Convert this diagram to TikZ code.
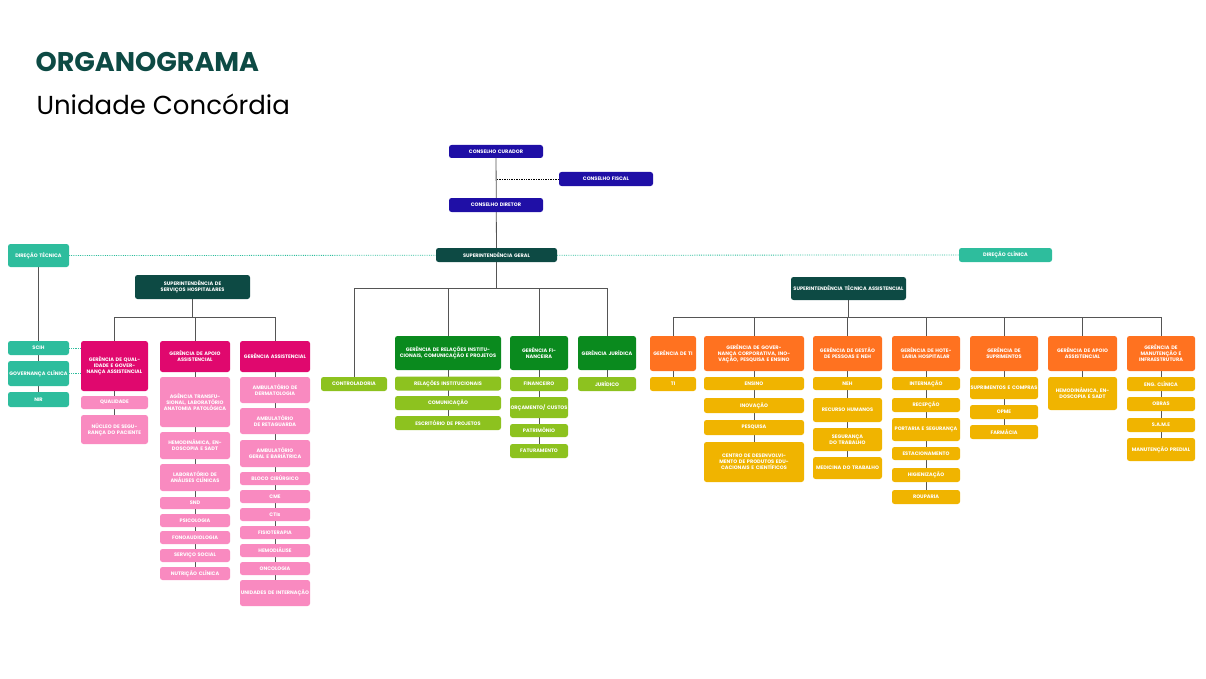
\documentclass[tikz,border=0pt]{standalone}
\usepackage{fontspec}
\setmainfont{Poppins}
\usetikzlibrary{backgrounds}
\definecolor{navy}{HTML}{1F0FA6}
\definecolor{dkg}{HTML}{0D4A44}
\definecolor{teal}{HTML}{2EBD9D}
\definecolor{mag}{HTML}{E0086E}
\definecolor{pnk}{HTML}{F98AC0}
\definecolor{grn}{HTML}{0A8A1E}
\definecolor{lgr}{HTML}{8DC21F}
\definecolor{org}{HTML}{FF7220}
\definecolor{yel}{HTML}{F0B400}
\definecolor{ln}{HTML}{555555}
\begin{document}
\begin{tikzpicture}[x=1pt,y=-1pt,
 b/.style 2 args={rounded corners=2.5pt,inner sep=0.5pt,minimum width=#1pt,minimum height=#2pt,text width=#1pt-1pt,align=center,font=\bfseries\fontsize{5}{6}\selectfont,text=white},
 nv/.style={fill=navy}, dg/.style={fill=dkg}, tl/.style={fill=teal}, mg/.style={fill=mag}, pk/.style={fill=pnk},
 gn/.style={fill=grn}, lg/.style={fill=lgr}, og/.style={fill=org}, yl/.style={fill=yel},
 ed/.style={draw=ln,line width=0.8pt},
 dt/.style={draw=teal,densely dotted,line width=0.8pt}]
\useasboundingbox (0,0) rectangle (1206,679);
\node[anchor=west,text=dkg,font=\bfseries\fontsize{27}{30}\selectfont] (t1) at (32,62) {ORGANOGRAMA};
\node[anchor=west,text=black,font=\fontsize{26}{30}\selectfont] (t2) at (33,104) {Unidade Concórdia};
% top
\node[b={94}{13},nv] (cc) at (496,151.5) {CONSELHO CURADOR};
\node[b={94}{14},nv] (cf) at (606,179) {CONSELHO FISCAL};
\node[b={94}{14},nv] (cd) at (496,205) {CONSELHO DIRETOR};
\node[b={121}{14},dg] (sg) at (496.5,255) {SUPERINTENDÊNCIA GERAL};
\node[b={61}{23},tl] (dtec) at (38.5,255.5) {DIREÇÃO TÉCNICA};
\node[b={93}{14},tl] (dc) at (1005.5,255) {DIREÇÃO CLÍNICA};
% left
\node[b={61}{14},tl] (scih) at (38.5,348) {SCIH};
\node[b={61}{25},tl] (gc) at (38.5,373.5) {GOVERNANÇA CLÍNICA};
\node[b={61}{15},tl] (nir) at (38.5,399.5) {NIR};
\node[b={115}{24},dg] (shs) at (192.5,287) {SUPERINTENDÊNCIA DE SERVIÇOS HOSPITALARES};
\node[b={67}{50},mg] (gq) at (114.5,366) {GERÊNCIA DE QUALIDADE E GOVERNANÇA ASSISTENCIAL};
\node[b={70}{31},mg] (ga) at (195,356.5) {GERÊNCIA DE APOIO ASSISTENCIAL};
\node[b={70}{31},mg] (gas) at (275,356.5) {GERÊNCIA ASSISTENCIAL};
\node[b={67}{13},pk] (q1) at (114.5,402.5) {QUALIDADE};
\node[b={67}{29},pk] (q2) at (114.5,429.5) {NÚCLEO DE SEGURANÇA DO PACIENTE};
\node[b={70}{50},pk] (a1) at (195,402) {AGÊNCIA TRANSFUSIONAL, LABORATÓRIO ANATOMIA PATOLÓGICA};
\node[b={70}{27},pk] (a2) at (195,445.5) {HEMODINÂMICA, ENDOSCOPIA E SADT};
\node[b={70}{27},pk] (a3) at (195,477.5) {LABORATÓRIO DE ANÁLISES CLÍNICAS};
\node[b={70}{12},pk] (a4) at (195,503) {SND};
\node[b={70}{13},pk] (a5) at (195,520.5) {PSICOLOGIA};
\node[b={70}{13},pk] (a6) at (195,537.5) {FONOAUDIOLOGIA};
\node[b={70}{13},pk] (a7) at (195,555.5) {SERVIÇO SOCIAL};
\node[b={70}{13},pk] (a8) at (195,573.5) {NUTRIÇÃO CLÍNICA};
\node[b={70}{26},pk] (s1) at (275,390) {AMBULATÓRIO DE DERMATOLOGIA};
\node[b={70}{26},pk] (s2) at (275,421) {AMBULATÓRIO DE RETAGUARDA};
\node[b={70}{27},pk] (s3) at (275,453.5) {AMBULATÓRIO GERAL E BARIÁTRICA};
\node[b={70}{13},pk] (s4) at (275,478.5) {BLOCO CIRÚRGICO};
\node[b={70}{13},pk] (s5) at (275,496.5) {CME};
\node[b={70}{13},pk] (s6) at (275,514.5) {CTIs};
\node[b={70}{13},pk] (s7) at (275,532.5) {FISIOTERAPIA};
\node[b={70}{13},pk] (s8) at (275,550.5) {HEMODIÁLISE};
\node[b={70}{13},pk] (s9) at (275,568.5) {ONCOLOGIA};
\node[b={70}{26},pk] (s10) at (275,593) {UNIDADES DE INTERNAÇÃO};
% middle
\node[b={66}{14},lg] (ctrl) at (354,384) {CONTROLADORIA};
\node[b={106}{34},gn] (rel) at (448,353) {GERÊNCIA DE RELAÇÕES INSTITUCIONAIS, COMUNICAÇÃO E PROJETOS};
\node[b={58}{34},gn] (fin) at (539,353) {GERÊNCIA FINANCEIRA};
\node[b={58}{34},gn] (jur) at (607,353) {GERÊNCIA JURÍDICA};
\node[b={106}{14},lg] (r1) at (448,383.5) {RELAÇÕES INSTITUCIONAIS};
\node[b={106}{14},lg] (r2) at (448,403) {COMUNICAÇÃO};
\node[b={106}{14},lg] (r3) at (448,423) {ESCRITÓRIO DE PROJETOS};
\node[b={58}{14},lg] (f1) at (539,384) {FINANCEIRO};
\node[b={58}{21},lg] (f2) at (539,407.5) {ORÇAMENTO/ CUSTOS};
\node[b={58}{13},lg] (f3) at (539,430.5) {PATRIMÔNIO};
\node[b={58}{14},lg] (f4) at (539,451) {FATURAMENTO};
\node[b={58}{14},lg] (j1) at (607,384) {JURÍDICO};
% right
\node[b={115}{23},dg] (sta) at (848.5,288.5) {SUPERINTENDÊNCIA TÉCNICA ASSISTENCIAL};
\node[b={46}{35},og] (gti) at (673,353.5) {GERÊNCIA DE TI};
\node[b={100}{35},og] (ggov) at (754,353.5) {GERÊNCIA DE GOVERNANÇA CORPORATIVA, INOVAÇÃO, PESQUISA E ENSINO};
\node[b={69}{35},og] (ggp) at (847.5,353.5) {GERÊNCIA DE GESTÃO DE PESSOAS E NEH};
\node[b={68}{35},og] (ghh) at (926,353.5) {GERÊNCIA DE HOTELARIA HOSPITALAR};
\node[b={68}{35},og] (gsu) at (1004,353.5) {GERÊNCIA DE SUPRIMENTOS};
\node[b={69}{35},og] (gaa) at (1082.5,353.5) {GERÊNCIA DE APOIO ASSISTENCIAL};
\node[b={68}{35},og] (gmi) at (1161,353.5) {GERÊNCIA DE MANUTENÇÃO E INFRAESTRUTURA};
\node[b={46}{14},yl] (ti1) at (673,384) {TI};
\node[b={100}{13},yl] (g1) at (754,383.5) {ENSINO};
\node[b={100}{15},yl] (g2) at (754,405.5) {INOVAÇÃO};
\node[b={100}{15},yl] (g3) at (754,427.5) {PESQUISA};
\node[b={100}{40},yl] (g4) at (754,462) {CENTRO DE DESENVOLVIMENTO DE PRODUTOS EDUCACIONAIS E CIENTÍFICOS};
\node[b={69}{13},yl] (p1) at (847.5,383.5) {NEH};
\node[b={69}{24},yl] (p2) at (847.5,410) {RECURSO HUMANOS};
\node[b={69}{23},yl] (p3) at (847.5,439.5) {SEGURANÇA DO TRABALHO};
\node[b={69}{22},yl] (p4) at (847.5,468) {MEDICINA DO TRABALHO};
\node[b={68}{13},yl] (h1) at (926,383.5) {INTERNAÇÃO};
\node[b={68}{14},yl] (h2) at (926,405) {RECEPÇÃO};
\node[b={68}{23},yl] (h3) at (926,429.5) {PORTARIA E SEGURANÇA};
\node[b={68}{13},yl] (h4) at (926,453.5) {ESTACIONAMENTO};
\node[b={68}{14},yl] (h5) at (926,475) {HIGIENIZAÇÃO};
\node[b={68}{14},yl] (h6) at (926,497) {ROUPARIA};
\node[b={68}{22},yl] (u1) at (1004,388) {SUPRIMENTOS E COMPRAS};
\node[b={68}{14},yl] (u2) at (1004,412) {OPME};
\node[b={68}{14},yl] (u3) at (1004,432) {FARMÁCIA};
\node[b={69}{33},yl] (aa1) at (1082.5,393.5) {HEMODINÂMICA, ENDOSCOPIA E SADT};
\node[b={68}{14},yl] (m1) at (1161,384) {ENG. CLÍNICA};
\node[b={68}{14},yl] (m2) at (1161,404) {OBRAS};
\node[b={68}{14},yl] (m3) at (1161,425) {S.A.M.E};
\node[b={68}{23},yl] (m4) at (1161,449.5) {MANUTENÇÃO PREDIAL};
\begin{scope}[on background layer]
\draw[ed] (cc) -- (sg);
\draw[densely dotted,line width=0.7pt] (cf.west) -- (cf.west -| cc.south);
\draw[dt] (dtec.east) -- (dc.west);
\draw[ed] (dtec) -- (nir);
\draw[dt] (scih.east) -- (scih.east -| gq.west);
\draw[dt] (gc.east) -- (gc.east -| gq.west);
\draw[ed] (shs.south) -- ++(0,18) -| (gq.north);
\draw[ed] (shs.south) -- ++(0,18) -| (ga.north);
\draw[ed] (shs.south) -- ++(0,18) -| (gas.north);
\draw[ed] (gq) -- (q2); \draw[ed] (ga) -- (a8); \draw[ed] (gas) -- (s10);
\draw[ed] (sg.south) -- ++(0,26) -| (ctrl.north);
\draw[ed] (sg.south) -- ++(0,26) -| (rel.north);
\draw[ed] (sg.south) -- ++(0,26) -| (fin.north);
\draw[ed] (sg.south) -- ++(0,26) -| (jur.north);
\draw[ed] (rel) -- (r3); \draw[ed] (fin) -- (f4); \draw[ed] (jur) -- (j1);
\foreach \g in {gti,ggov,ggp,ghh,gsu,gaa,gmi}
  \draw[ed] (sta.south) -- ++(0,17) -| (\g.north);
\draw[ed] (gti) -- (ti1); \draw[ed] (ggov) -- (g4); \draw[ed] (ggp) -- (p4);
\draw[ed] (ghh) -- (h6); \draw[ed] (gsu) -- (u3); \draw[ed] (gaa) -- (aa1); \draw[ed] (gmi) -- (m4);
\end{scope}
\end{tikzpicture}
\end{document}
